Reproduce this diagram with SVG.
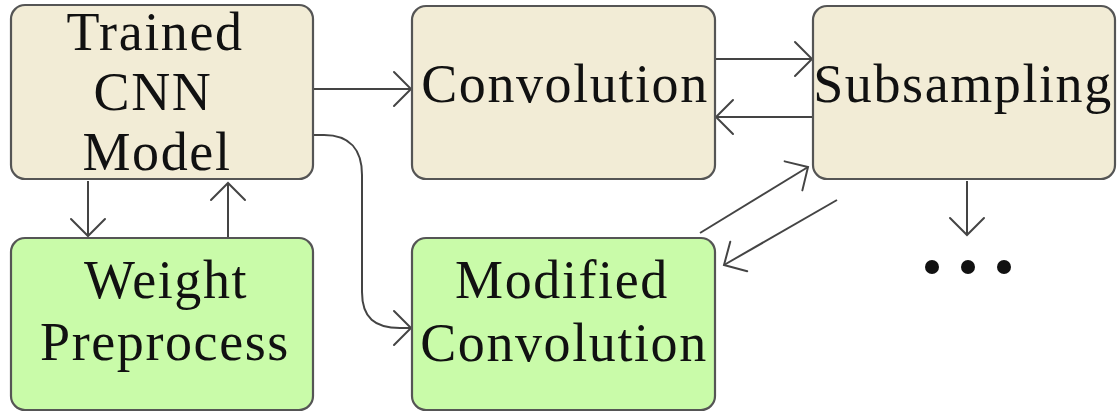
<svg xmlns="http://www.w3.org/2000/svg" width="1117" height="413" viewBox="0 0 1117 413">
  <style>
    .box { stroke: #555; stroke-width: 2.2; }
    .base { fill: #F2ECD6; }
    .mod { fill: #C9FBA9; }
    .label { font-family: "Liberation Serif", "Times New Roman", serif; font-size: 54px; fill: #111; text-anchor: middle; letter-spacing: 1.6px; }
    .edge { fill: none; stroke: #444; stroke-width: 2; marker-end: url(#arrow); }
  </style>
  <defs>
    <marker id="arrow" markerUnits="userSpaceOnUse" viewBox="-22 -22 26 44" refX="0" refY="0" markerWidth="26" markerHeight="44" orient="auto">
      <path d="M-17,-17 L0,0 L-17,17" fill="none" stroke="#444" stroke-width="2" stroke-linecap="round" stroke-linejoin="miter"/>
    </marker>
  </defs>
  <rect width="1117" height="413" fill="#fff"/>

  <g id="connectors">
    <path class="edge" d="M313,89 H411"/>
    <path class="edge" d="M715,59 H812"/>
    <path class="edge" d="M813,117 H716"/>
    <path class="edge" d="M313,135 H324 C350,135 362,150 362,175 V292 C362,318 375,328 400,328 H411"/>
    <path class="edge" d="M88,181 V236"/>
    <path class="edge" d="M228,238 V183"/>
    <path class="edge" d="M700,233 L808,167"/>
    <path class="edge" d="M837,200 L724,265"/>
    <path class="edge" d="M967,181 V235"/>
  </g>

  <g id="trained-cnn-model">
    <rect class="box base" x="11" y="5" width="302" height="174" rx="14"/>
    <text class="label"><tspan x="155" y="50">Trained</tspan><tspan x="153" y="110">CNN</tspan><tspan x="157" y="170">Model</tspan></text>
  </g>

  <g id="convolution">
    <rect class="box base" x="412" y="6" width="303" height="173" rx="14"/>
    <text class="label" x="565" y="102">Convolution</text>
  </g>

  <g id="subsampling">
    <rect class="box base" x="813" y="6" width="302" height="173" rx="14"/>
    <text class="label" x="963" y="102">Subsampling</text>
  </g>

  <g id="weight-preprocess">
    <rect class="box mod" x="11" y="238" width="302" height="172" rx="14"/>
    <text class="label"><tspan x="166" y="298">Weight</tspan><tspan x="165" y="360">Preprocess</tspan></text>
  </g>

  <g id="modified-convolution">
    <rect class="box mod" x="412" y="238" width="303" height="172" rx="14"/>
    <text class="label"><tspan x="562" y="298">Modified</tspan><tspan x="564" y="361">Convolution</tspan></text>
  </g>

  <g id="more-layers" fill="#111">
    <circle cx="932" cy="267" r="7"/>
    <circle cx="968" cy="267" r="7"/>
    <circle cx="1004" cy="267" r="7"/>
  </g>
</svg>
